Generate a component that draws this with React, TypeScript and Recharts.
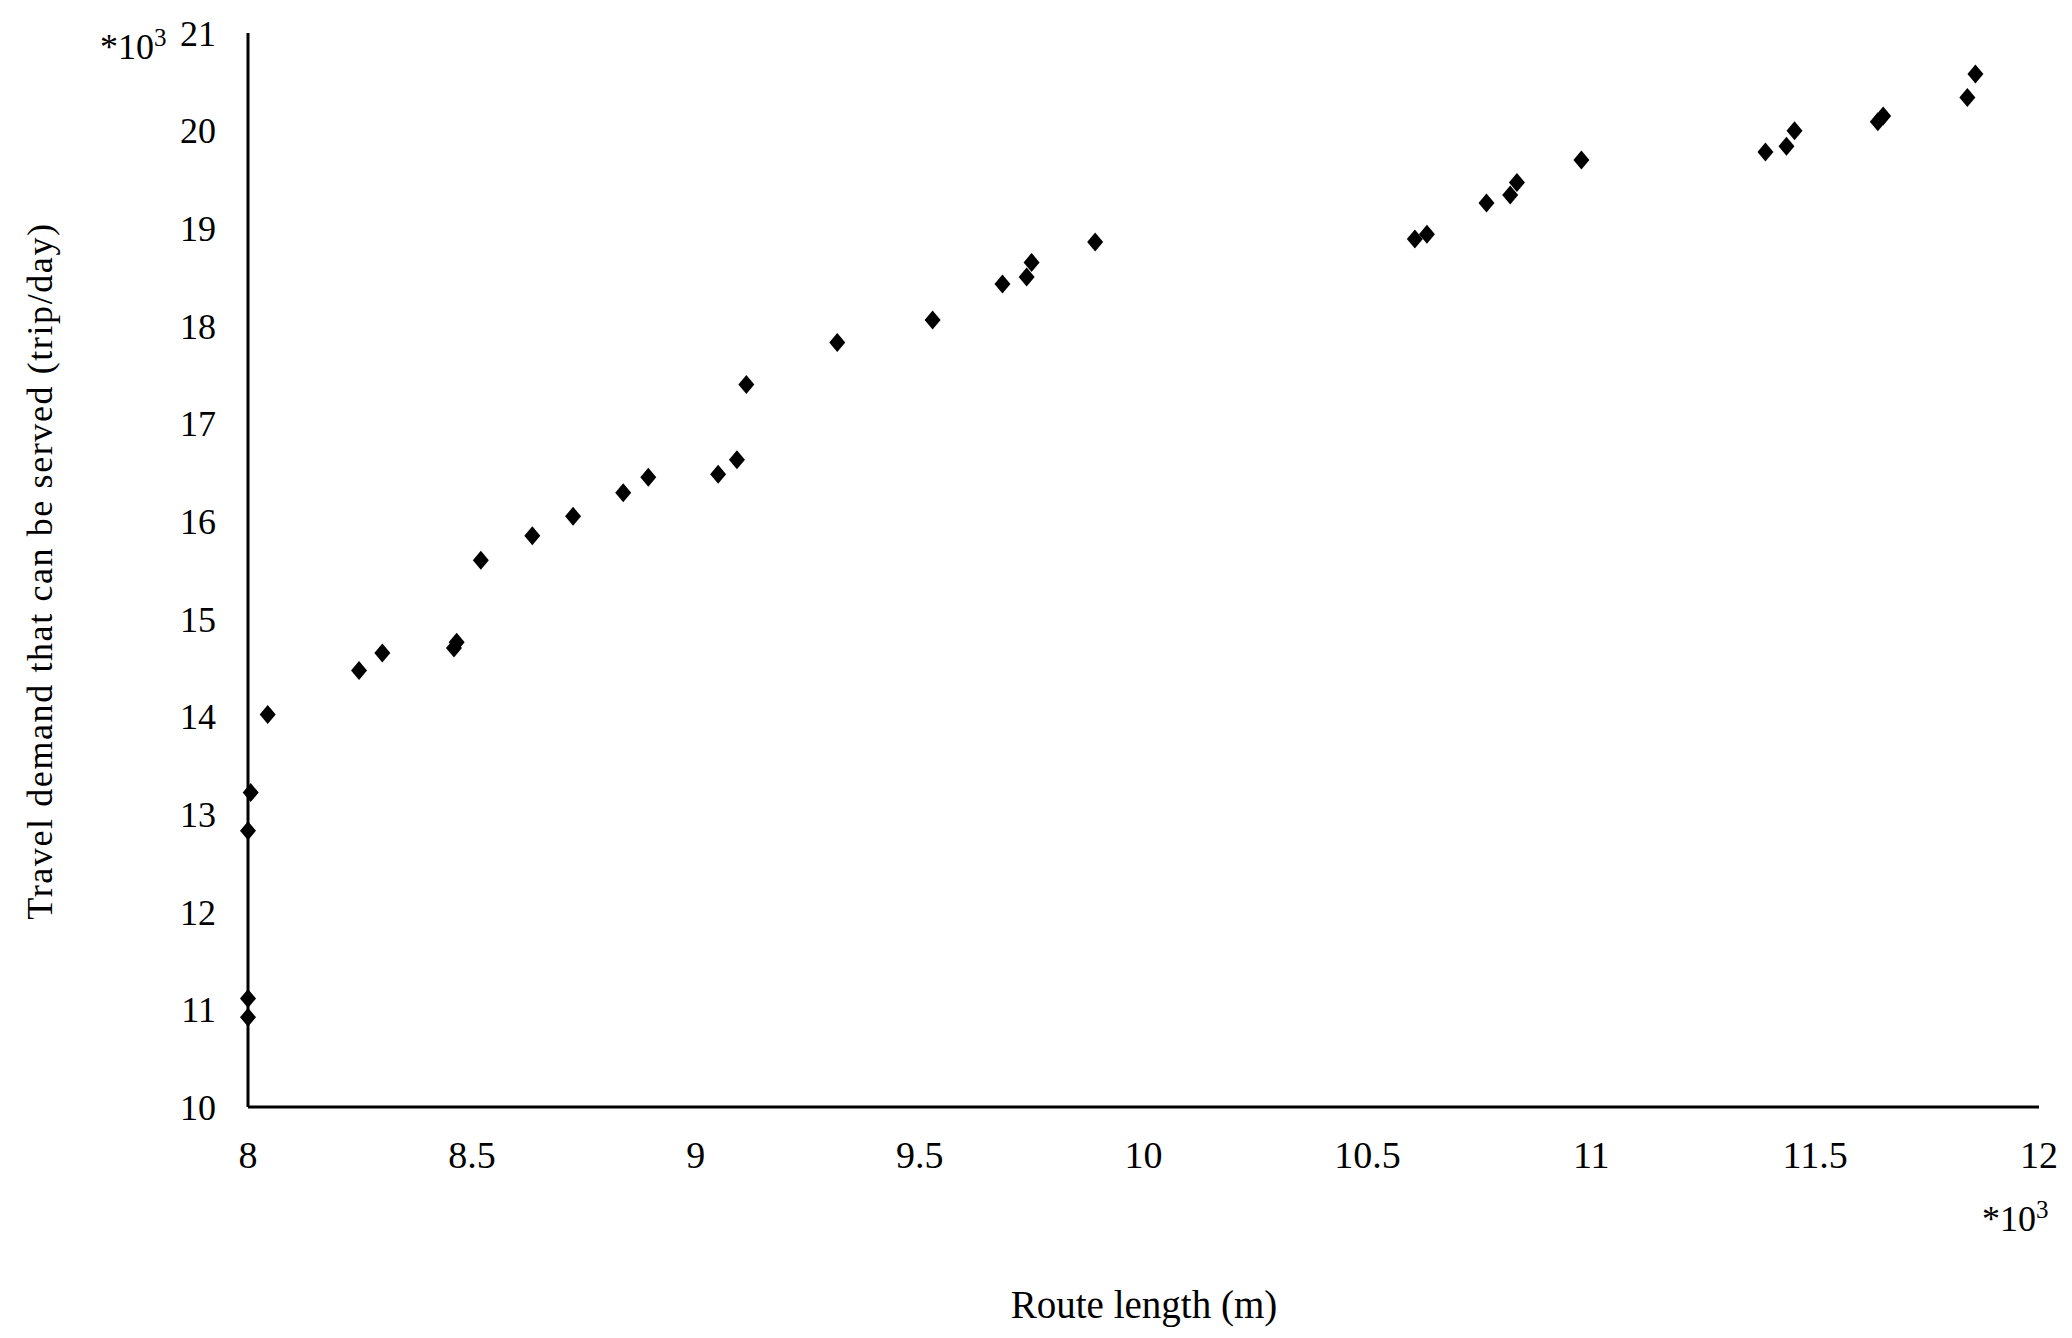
import { Scatter, ScatterChart, XAxis, YAxis } from 'recharts';

// Route length (x10^3 m)
const routeLength = [
  8.0, 8.0, 8.0, 8.006, 8.044, 8.248, 8.3, 8.46, 8.466, 8.52, 8.635, 8.726, 8.838, 8.894, 9.05, 9.092, 9.113,
  9.316, 9.529, 9.685, 9.739, 9.75, 9.892, 10.606, 10.633, 10.766, 10.819, 10.834, 10.978, 11.389, 11.436,
  11.454, 11.64, 11.652, 11.84, 11.858,
];

// Travel demand that can be served (x10^3 trip/day)
const demand = [
  10.92, 11.11, 12.83, 13.22, 14.02, 14.47, 14.65, 14.7, 14.76, 15.6, 15.85, 16.05, 16.29, 16.45, 16.48, 16.63,
  17.4, 17.83, 18.06, 18.43, 18.5, 18.65, 18.86, 18.89, 18.94, 19.26, 19.34, 19.47, 19.7, 19.78, 19.84, 20.0,
  20.09, 20.15, 20.34, 20.58,
];

const xTicks = [8, 8.5, 9, 9.5, 10, 10.5, 11, 11.5, 12];
const yTicks = [10, 11, 12, 13, 14, 15, 16, 17, 18, 19, 20, 21];

const FONT = '"Liberation Serif", "DejaVu Serif", serif';

const points = routeLength.map((x, i) => ({ x, y: demand[i] }));

function Diamond(props: { cx?: number; cy?: number }) {
  const { cx, cy } = props;
  if (cx == null || cy == null) return null;
  const w = 8;
  const h = 9.5;
  return (
    <path
      d={`M${cx},${cy - h} L${cx + w},${cy} L${cx},${cy + h} L${cx - w},${cy} Z`}
      fill="#000"
    />
  );
}

const xTickStyle = { fill: '#000', fontSize: 38, fontFamily: FONT };
const yTickStyle = { fill: '#000', fontSize: 36, fontFamily: FONT };

export default function App() {
  return (
    <div style={{ position: 'absolute', left: 0, top: 0, width: 2072, height: 1338, background: '#fff' }}>
      <ScatterChart width={2072} height={1338} margin={{ top: 33, right: 33, bottom: 171, left: 148 }}>
        <XAxis
          type="number"
          dataKey="x"
          domain={[8, 12]}
          ticks={xTicks}
          interval={0}
          height={60}
          tick={xTickStyle}
          tickLine={false}
          tickSize={0}
          tickMargin={34}
          axisLine={{ stroke: '#000', strokeWidth: 3 }}
        />
        <YAxis
          type="number"
          dataKey="y"
          domain={[10, 21]}
          ticks={yTicks}
          interval={0}
          width={100}
          tick={yTickStyle}
          tickLine={false}
          tickSize={0}
          tickMargin={32}
          axisLine={{ stroke: '#000', strokeWidth: 3 }}
        />
        <Scatter data={points} shape={<Diamond />} isAnimationActive={false} />
      </ScatterChart>

      {/* multiplier notes and axis titles */}
      <div style={{ position: 'absolute', left: 100, top: 24, fontFamily: FONT, fontSize: 36, color: '#000' }}>
        *10<sup style={{ fontSize: 25 }}>3</sup>
      </div>
      <div style={{ position: 'absolute', left: 1982, top: 1196, fontFamily: FONT, fontSize: 36, color: '#000' }}>
        *10<sup style={{ fontSize: 25 }}>3</sup>
      </div>
      <div
        style={{
          position: 'absolute',
          left: 1144,
          top: 1304,
          transform: 'translate(-50%, -50%)',
          fontFamily: FONT,
          fontSize: 39,
          color: '#000',
          whiteSpace: 'nowrap',
        }}
      >
        Route length (m)
      </div>
      <div
        style={{
          position: 'absolute',
          left: 40,
          top: 571,
          transform: 'translate(-50%, -50%) rotate(-90deg)',
          fontFamily: FONT,
          fontSize: 36,
          letterSpacing: 1.6,
          color: '#000',
          whiteSpace: 'nowrap',
        }}
      >
        Travel demand that can be served (trip/day)
      </div>
    </div>
  );
}
